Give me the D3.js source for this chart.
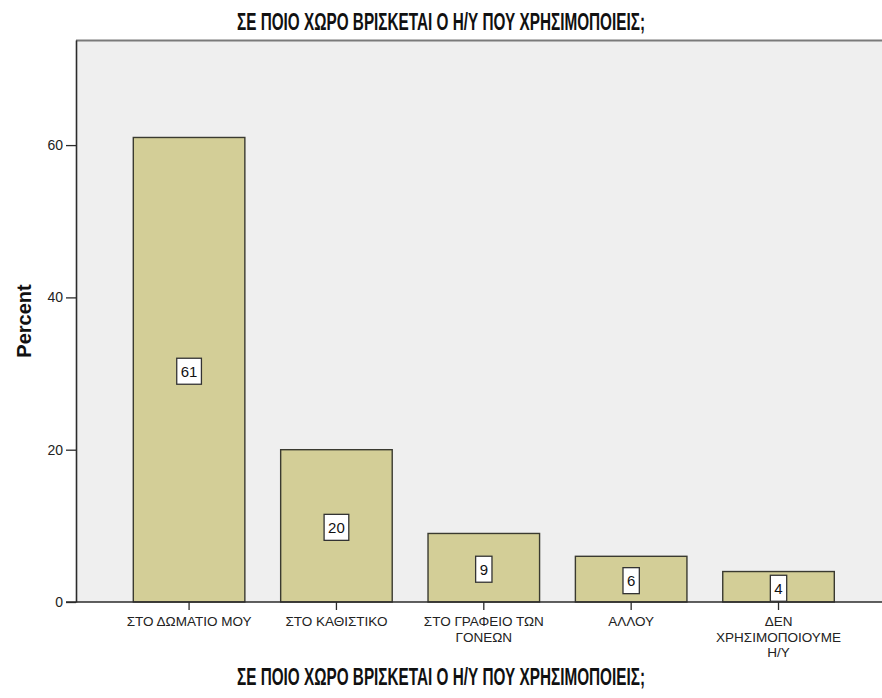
<!DOCTYPE html>
<html>
<head>
<meta charset="utf-8">
<script src="https://cdn.jsdelivr.net/npm/d3@7"></script>
<style>
  html, body { margin: 0; padding: 0; background: #ffffff; }
  svg { display: block; }
  text { font-family: "Liberation Sans", Arial, sans-serif; }
</style>
</head>
<body>
<svg id="chart" width="882" height="698"></svg>
<script>
// Where the computer is located (percent of respondents)
const chartTitle = "ΣΕ ΠΟΙΟ ΧΩΡΟ ΒΡΙΣΚΕΤΑΙ Ο Η/Υ ΠΟΥ ΧΡΗΣΙΜΟΠΟΙΕΙΣ;";
const categories = [
  ["ΣΤΟ ΔΩΜΑΤΙΟ ΜΟΥ"],
  ["ΣΤΟ ΚΑΘΙΣΤΙΚΟ"],
  ["ΣΤΟ ΓΡΑΦΕΙΟ ΤΩΝ", "ΓΟΝΕΩΝ"],
  ["ΑΛΛΟΥ"],
  ["ΔΕΝ", "ΧΡΗΣΙΜΟΠΟΙΟΥΜΕ", "Η/Υ"]
];
const percents = [61, 20, 9, 6, 4];
const yTicks = [0, 20, 40, 60];
const yLabel = "Percent";

const svg = d3.select("#chart");

const plot = { left: 76, top: 40, right: 884, bottom: 602 };

const y = d3.scaleLinear().domain([0, 73.8]).range([plot.bottom, plot.top]);
const x = d3.scaleBand()
  .domain(d3.range(categories.length))
  .range([115.4, 852.2])
  .paddingInner(0.243)
  .paddingOuter(0.1215);

// plot background and frame
svg.append("rect")
  .attr("x", plot.left).attr("y", plot.top)
  .attr("width", plot.right - plot.left).attr("height", plot.bottom - plot.top)
  .attr("fill", "#efefef");
svg.append("line")
  .attr("x1", plot.left).attr("x2", plot.right)
  .attr("y1", plot.top + 0.5).attr("y2", plot.top + 0.5)
  .attr("stroke", "#7a7a7a").attr("stroke-width", 2);

// bars
svg.append("g").selectAll("rect")
  .data(percents)
  .join("rect")
  .attr("x", (d, i) => x(i))
  .attr("y", d => y(d))
  .attr("width", x.bandwidth())
  .attr("height", d => y(0) - y(d))
  .attr("fill", "#d3ce97")
  .attr("stroke", "#3a3a30")
  .attr("stroke-width", 1.4);

// y axis
const yAxis = svg.append("g")
  .attr("transform", `translate(${plot.left},0)`)
  .call(d3.axisLeft(y).tickValues(yTicks).tickSize(10).tickSizeOuter(0).tickPadding(3));
yAxis.select(".domain").attr("stroke", "#2b2b2b").attr("stroke-width", 1.6);
yAxis.selectAll(".tick line").attr("stroke", "#2b2b2b").attr("stroke-width", 1.3);
yAxis.selectAll(".tick text")
  .attr("fill", "#222")
  .style("font-size", "14px")
  .style("font-family", "'Liberation Sans', Arial, sans-serif");

// x axis
const xAxis = svg.append("g")
  .attr("transform", `translate(0,${plot.bottom})`)
  .call(d3.axisBottom(x).tickSize(8).tickSizeOuter(0).tickFormat(""));
xAxis.select(".domain").remove();
xAxis.selectAll(".tick line").attr("stroke", "#2b2b2b").attr("stroke-width", 1.3);
svg.append("line")
  .attr("x1", 66).attr("x2", plot.right)
  .attr("y1", plot.bottom).attr("y2", plot.bottom)
  .attr("stroke", "#2b2b2b").attr("stroke-width", 1.6);

// category labels (multi-line)
const catLabels = svg.append("g").selectAll("text")
  .data(categories)
  .join("text")
  .attr("x", (d, i) => x(i) + x.bandwidth() / 2)
  .attr("y", 626)
  .attr("text-anchor", "middle")
  .attr("fill", "#222")
  .style("font-size", "13.5px");
catLabels.selectAll("tspan")
  .data(d => d)
  .join("tspan")
  .attr("x", function () { return this.parentNode.getAttribute("x"); })
  .attr("dy", (d, i) => i === 0 ? 0 : 15.5)
  .text(d => d);

// value labels in boxes at mid-height of each bar
const vl = svg.append("g").selectAll("g")
  .data(percents)
  .join("g")
  .attr("transform", (d, i) => `translate(${x(i) + x.bandwidth() / 2},${(y(d) + y(0)) / 2 + 1.5})`);
vl.append("text")
  .attr("text-anchor", "middle")
  .attr("dy", "0.36em")
  .attr("fill", "#111")
  .style("font-size", "15px")
  .text(d => d);
vl.each(function () {
  const g = d3.select(this);
  const w = g.select("text").node().getComputedTextLength();
  g.insert("rect", "text")
    .attr("x", -w / 2 - 4).attr("y", -13)
    .attr("width", w + 8).attr("height", 26)
    .attr("fill", "#ffffff")
    .attr("stroke", "#333").attr("stroke-width", 1.3);
});

// titles (condensed bold)
[30, 685].forEach(yy => {
  svg.append("text")
    .attr("x", 441).attr("y", yy)
    .attr("text-anchor", "middle")
    .attr("fill", "#111")
    .attr("textLength", 408)
    .attr("lengthAdjust", "spacingAndGlyphs")
    .style("font-weight", "bold")
    .style("font-size", "23px")
    .text(chartTitle);
});
svg.append("text")
  .attr("transform", `translate(31,${(plot.top + plot.bottom) / 2}) rotate(-90)`)
  .attr("text-anchor", "middle")
  .attr("fill", "#111")
  .style("font-weight", "bold")
  .style("font-size", "20px")
  .text(yLabel);
</script>
</body>
</html>
